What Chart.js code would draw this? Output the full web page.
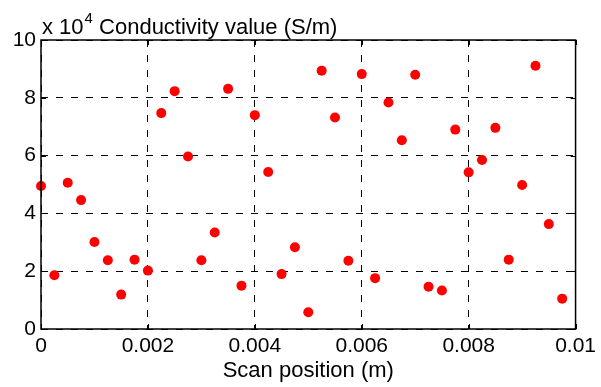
<!DOCTYPE html>
<html>
<head>
<meta charset="utf-8">
<script src="https://cdn.jsdelivr.net/npm/chart.js@4"></script>
<style>
  html, body { margin: 0; padding: 0; background: #fff; }
  #wrap { width: 601px; height: 387px; }
</style>
</head>
<body>
<div id="wrap"><canvas id="chart" width="601" height="387"></canvas></div>
<script>
// scan positions (m)
const positions = [
  0, 0.00025, 0.0005, 0.00075, 0.001, 0.00125, 0.0015, 0.00175,
  0.002, 0.00225, 0.0025, 0.00275, 0.003, 0.00325, 0.0035, 0.00375,
  0.004, 0.00425, 0.0045, 0.00475, 0.005, 0.00525, 0.0055, 0.00575,
  0.006, 0.00625, 0.0065, 0.00675, 0.007, 0.00725, 0.0075, 0.00775,
  0.008, 0.00825, 0.0085, 0.00875, 0.009, 0.00925, 0.0095, 0.00975
];
// conductivity, in units of 10^4 S/m
const conductivity = [
  4.95, 1.86, 5.06, 4.46, 3.01, 2.38, 1.19, 2.40,
  2.02, 7.47, 8.23, 5.97, 2.38, 3.34, 8.31, 1.50,
  7.40, 5.43, 1.90, 2.83, 0.58, 8.94, 7.32, 2.36,
  8.82, 1.76, 7.84, 6.53, 8.80, 1.46, 1.33, 6.90,
  5.42, 5.85, 6.96, 2.40, 4.98, 9.11, 3.63, 1.05
];
const xTicks = [0, 0.002, 0.004, 0.006, 0.008, 0.01];
const xTickLabels = ["0", "0.002", "0.004", "0.006", "0.008", "0.01"];
const yTicks = [0, 2, 4, 6, 8, 10];
const yTickLabels = ["0", "2", "4", "6", "8", "10"];

const FONT = "'Liberation Sans', Arial, Helvetica, sans-serif";

// box, inward tick marks and axis titles (MATLAB look)
const frame = {
  id: "frame",
  afterDatasetsDraw(chart) {
    const { ctx, chartArea: a, scales } = chart;
    ctx.save();
    ctx.strokeStyle = "#000";
    ctx.lineWidth = 1;
    ctx.setLineDash([]);
    ctx.beginPath();
    xTicks.forEach(v => {
      const px = Math.round(scales.x.getPixelForValue(v)) + 0.5;
      ctx.moveTo(px, a.top); ctx.lineTo(px, a.top + 5);
      ctx.moveTo(px, a.bottom); ctx.lineTo(px, a.bottom - 5);
    });
    yTicks.forEach(v => {
      const py = Math.round(scales.y.getPixelForValue(v)) + 0.5;
      ctx.moveTo(a.left, py); ctx.lineTo(a.left + 5, py);
      ctx.moveTo(a.right, py); ctx.lineTo(a.right - 5, py);
    });
    ctx.stroke();
    ctx.lineWidth = 1.5;
    ctx.strokeRect(a.left, a.top, a.right - a.left, a.bottom - a.top);

    ctx.fillStyle = "#000";
    ctx.textBaseline = "alphabetic";
    ctx.textAlign = "center";
    ctx.font = "22px " + FONT;
    ctx.fillText("Scan position (m)", (a.left + a.right) / 2, 377);

    ctx.textAlign = "left";
    let x = a.left + 1;
    ctx.font = "22px " + FONT;
    ctx.fillText("x 10", x, 34);
    x += ctx.measureText("x 10").width + 1;
    ctx.font = "15px " + FONT;
    ctx.fillText("4", x, 23);
    x += ctx.measureText("4").width;
    ctx.font = "22px " + FONT;
    ctx.fillText(" Conductivity value (S/m)", x, 34);
    ctx.restore();
  }
};

new Chart(document.getElementById("chart"), {
  type: "scatter",
  data: {
    datasets: [{
      data: positions.map((p, i) => ({ x: p, y: conductivity[i] })),
      backgroundColor: "#ff0000",
      borderWidth: 0,
      pointRadius: 5,
      pointHoverRadius: 5,
      clip: false
    }]
  },
  options: {
    responsive: false,
    animation: false,
    layout: { padding: { top: 40, right: 21, left: 0, bottom: 0 } },
    plugins: { legend: { display: false }, tooltip: { enabled: false } },
    scales: {
      x: {
        type: "linear",
        min: 0,
        max: 0.01,
        afterBuildTicks: s => { s.ticks = xTicks.map(v => ({ value: v })); },
        afterFit: s => { s.height = 58; },
        grid: { color: "#000", lineWidth: 1, drawTicks: false },
        border: { display: false, dash: [7, 8] },
        ticks: {
          padding: 5,
          color: "#000",
          font: { family: FONT, size: 21 },
          maxRotation: 0,
          autoSkip: false,
          callback: (v, i) => xTickLabels[i]
        }
      },
      y: {
        type: "linear",
        min: 0,
        max: 10,
        afterBuildTicks: s => { s.ticks = yTicks.map(v => ({ value: v })); },
        afterFit: s => { s.width = 41; },
        grid: { color: "#000", lineWidth: 1, drawTicks: false },
        border: { display: false, dash: [7, 8] },
        ticks: {
          padding: 5,
          color: "#000",
          font: { family: FONT, size: 21 },
          autoSkip: false,
          callback: (v, i) => yTickLabels[i]
        }
      }
    }
  },
  plugins: [frame]
});
</script>
</body>
</html>
